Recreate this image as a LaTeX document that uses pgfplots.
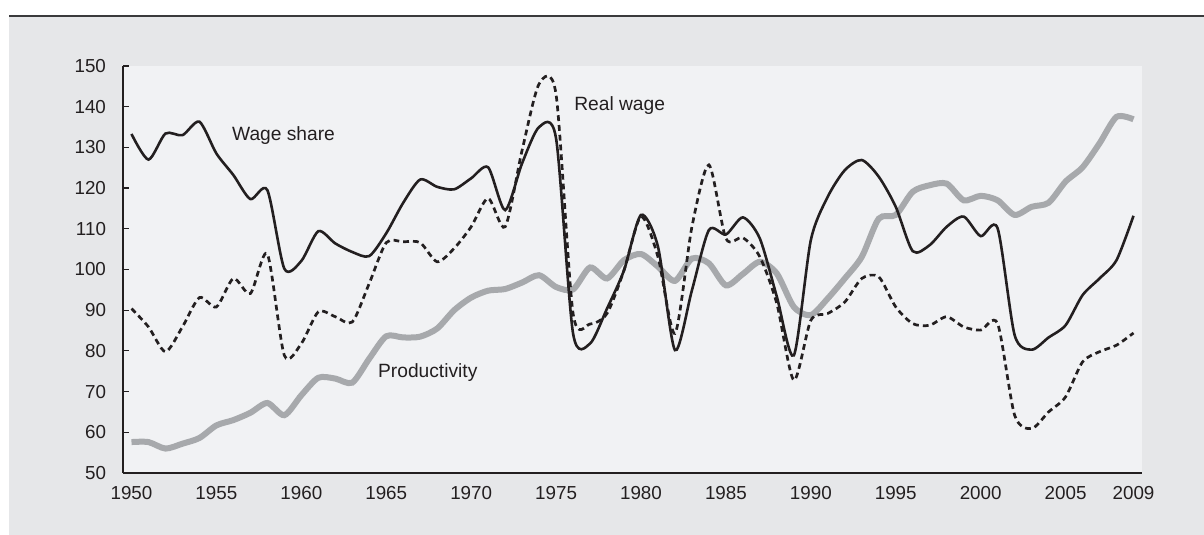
\documentclass[border=0pt]{standalone}
\usepackage{pgfplots}
\pgfplotsset{compat=1.18}
\usepackage{fontspec}
\setmainfont{Liberation Sans}
\definecolor{outergray}{HTML}{E6E7E9}
\definecolor{panelgray}{HTML}{F1F2F4}
\definecolor{inkc}{HTML}{231F20}
\definecolor{prodgray}{HTML}{A7A9AC}
\definecolor{topline}{HTML}{3A3A3C}

\begin{document}
\begin{tikzpicture}
\fill[white] (0,0) rectangle (602bp,267.5bp);
\fill[outergray] (4.5bp,0) rectangle (602bp,259.5bp);
\draw[topline, line width=1.4bp] (4.5bp,259.5bp) -- (602bp,259.5bp);
\begin{axis}[
  at={(61.5bp,31bp)}, anchor=south west,
  scale only axis, width=509.5bp, height=203.5bp,
  xmin=1949.5, xmax=2009.5, ymin=50, ymax=150,
  axis x line*=bottom, axis y line*=left,
  axis line style={-, inkc, line width=0.7bp},
  axis background/.style={fill=panelgray},
  tick align=inside,
  xtick={1950,1955,1960,1965,1970,1975,1980,1985,1990,1995,2000,2005,2009},
  xticklabels={1950,1955,1960,1965,1970,1975,1980,1985,1990,1995,2000,2005,2009},
  xtick style={draw=none},
  minor xtick={1949.5,1950.5,...,2009.5},
  minor x tick style={inkc, line width=0.5bp},
  minor tick length=2.5bp,
  ytick={50,60,...,150},
  y tick style={inkc, line width=0.6bp},
  major tick length=3bp,
  /pgf/number format/assume math mode=true,
  ticklabel style={font=\fontsize{9.4bp}{11bp}\selectfont, text=inkc},
  yticklabel style={xshift=-5bp},
  xticklabel style={yshift=-3bp},
  clip=false,
]
\addplot[prodgray, line width=3bp, smooth, tension=0.45] coordinates {
(1950,57.6) (1951,57.6) (1952,56.0) (1953,57.2) (1954,58.6) (1955,61.7) (1956,63.0) (1957,64.8) (1958,67.2) (1959,64.2)
(1960,69.1) (1961,73.4) (1962,73.2) (1963,72.2) (1964,78.1) (1965,83.6) (1966,83.3) (1967,83.5) (1968,85.5) (1969,90.0)
(1970,93.1) (1971,94.8) (1972,95.2) (1973,96.8) (1974,98.6) (1975,95.7) (1976,95.1) (1977,100.5) (1978,97.8) (1979,102.3)
(1980,103.8) (1981,100.7) (1982,97.2) (1983,102.7) (1984,101.5) (1985,96.1) (1986,98.9) (1987,101.9) (1988,99.0) (1989,90.8)
(1990,88.8) (1991,92.9) (1992,97.8) (1993,103.1) (1994,112.5) (1995,113.4) (1996,119.1) (1997,120.7) (1998,121.1) (1999,117.0)
(2000,118.1) (2001,117.0) (2002,113.4) (2003,115.4) (2004,116.4) (2005,121.6) (2006,125.1) (2007,131.0) (2008,137.5) (2009,136.9)
};
\addplot[inkc, line width=1.35bp, dash pattern=on 2.9bp off 2bp, smooth, tension=0.45] coordinates {
(1950,90.4) (1951,85.9) (1952,79.8) (1953,85.9) (1954,93.1) (1955,90.8) (1956,97.8) (1957,94.1) (1958,103.8) (1959,78.9)
(1960,81.8) (1961,89.6) (1962,88.4) (1963,87.1) (1964,96.6) (1965,106.6) (1966,106.8) (1967,106.6) (1968,101.9) (1969,105.2)
(1970,110.5) (1971,117.5) (1972,110.5) (1973,129.3) (1974,145.6) (1975,143.0) (1976,89.2) (1977,86.6) (1978,89.2) (1979,99.8)
(1980,113.0) (1981,103.1) (1982,84.3) (1983,110.5) (1984,125.7) (1985,107.6) (1986,107.8) (1987,103.1) (1988,91.6) (1989,72.8)
(1990,87.5) (1991,89.2) (1992,92.0) (1993,97.8) (1994,98.2) (1995,90.8) (1996,86.7) (1997,86.3) (1998,88.4) (1999,85.9)
(2000,85.1) (2001,86.7) (2002,64.2) (2003,60.9) (2004,65.0) (2005,68.7) (2006,77.3) (2007,79.8) (2008,81.4) (2009,84.4)
};
\addplot[inkc, line width=1.3bp, smooth, tension=0.45] coordinates {
(1950,133.3) (1951,127.0) (1952,133.4) (1953,133.0) (1954,136.3) (1955,128.5) (1956,123.2) (1957,117.3) (1958,119.5) (1959,100.2)
(1960,102.1) (1961,109.4) (1962,106.4) (1963,104.3) (1964,103.3) (1965,108.9) (1966,116.4) (1967,122.1) (1968,120.3) (1969,119.7)
(1970,122.4) (1971,125.1) (1972,114.6) (1973,126.1) (1974,135.0) (1975,132.2) (1976,84.3) (1977,81.8) (1978,90.4) (1979,99.8)
(1980,113.4) (1981,105.6) (1982,80.2) (1983,94.9) (1984,109.7) (1985,108.6) (1986,112.8) (1987,107.6) (1988,93.3) (1989,78.9)
(1990,107.2) (1991,117.9) (1992,124.4) (1993,126.9) (1994,122.8) (1995,115.4) (1996,104.5) (1997,106.0) (1998,110.5) (1999,113.0)
(2000,108.2) (2001,110.1) (2002,83.9) (2003,80.3) (2004,83.3) (2005,86.3) (2006,93.7) (2007,97.8) (2008,102.3) (2009,113.2)
};
\node[anchor=west, inner sep=0pt, text=inkc, font=\fontsize{9.6bp}{11bp}\selectfont] at (axis cs:1955.9,132.8) {Wage share};
\node[anchor=west, inner sep=0pt, text=inkc, font=\fontsize{9.6bp}{11bp}\selectfont] at (axis cs:1976.05,140.4) {Real wage};
\node[anchor=west, inner sep=0pt, text=inkc, font=\fontsize{9.6bp}{11bp}\selectfont] at (axis cs:1964.5,74.6) {Productivity};
\end{axis}
\pgfresetboundingbox
\path (0,0) rectangle (602bp,267.5bp);
\end{tikzpicture}
\end{document}
